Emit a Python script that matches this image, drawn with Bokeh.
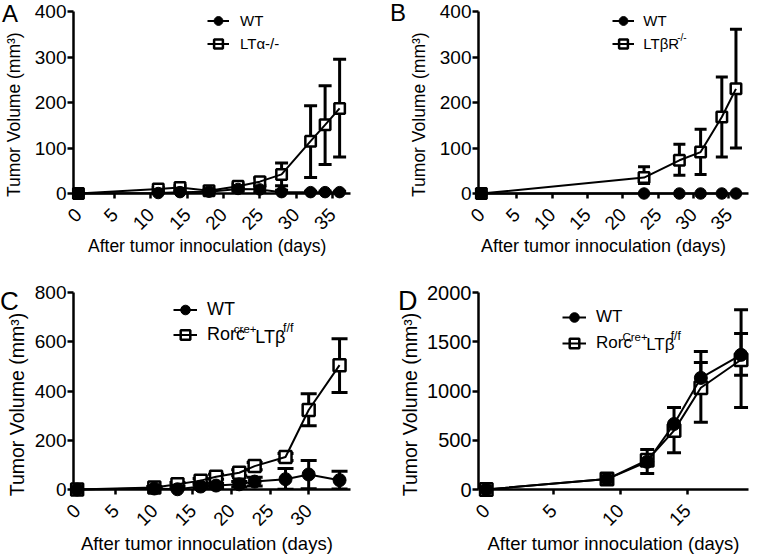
import math
from bokeh.plotting import figure
from bokeh.models import (ColumnDataSource, Whisker, TeeHead, Legend, LegendItem,
                          Label, FixedTicker, GridBox, Div)
from bokeh.embed import file_html
from bokeh.resources import INLINE

# ---------------- data ----------------
# Panel A: WT vs LTa-/-
a_days = [0, 11, 14, 18, 22, 25, 28, 32, 34, 36]
a_wt = [0, 1, 3, 4, 10, 9, 3, 3, 3, 3]
a_wt_lo = [0, 0, 1, 2, 5, 4, 1, 1, 1, 1]
a_wt_hi = [0, 2, 5, 6, 15, 14, 7, 5, 5, 5]
a_ko = [0, 10, 13, 6, 16, 26, 42, 115, 151, 187]
a_ko_lo = [0, 7, 9, 4, 11, 18, 17, 35, 64, 80]
a_ko_hi = [0, 13, 17, 8, 21, 34, 67, 193, 237, 295]

# Panel B: WT vs LTbR-/-
b_days = [0, 23, 28, 31, 34, 36]
b_wt = [0, 0, 0, 0, 0, 0]
b_wt_lo = [0, 0, 0, 0, 0, 0]
b_wt_hi = [0, 0, 0, 0, 0, 0]
b_ko = [0, 35, 73, 91, 168, 230]
b_ko_lo = [0, 22, 40, 42, 80, 100]
b_ko_hi = [0, 59, 108, 141, 256, 361]

# Panel C: WT vs Rorc-cre+ LTb f/f
c_days = [0, 10, 13, 16, 18, 21, 23, 27, 30, 34]
c_wt = [0, 4, 1, 12, 16, 21, 32, 42, 61, 38]
c_wt_lo = [0, 2, 0, 5, 8, 10, 14, 1, 3, 2]
c_wt_hi = [0, 6, 3, 19, 24, 32, 50, 85, 118, 74]
c_ko = [0, 8, 21, 36, 52, 68, 95, 132, 323, 505]
c_ko_lo = [0, 4, 14, 27, 42, 56, 80, 118, 259, 394]
c_ko_hi = [0, 12, 28, 45, 62, 80, 110, 146, 389, 612]

# Panel D: WT vs Rorc-Cre+ LTb f/f
d_days = [0, 9, 12, 14, 16, 19]
d_wt = [0, 106, 281, 665, 1133, 1367]
d_wt_lo = [0, 106, 163, 665, 1133, 1160]
d_wt_hi = [0, 106, 407, 832, 1400, 1825]
d_ko = [0, 106, 297, 598, 1033, 1317]
d_ko_lo = [0, 106, 297, 374, 682, 832]
d_ko_hi = [0, 106, 297, 598, 1290, 1585]

x_ticks_ab = [0, 5, 10, 15, 20, 25, 30, 35]
x_ticks_c = [0, 5, 10, 15, 20, 25, 30]
x_ticks_d = [0, 5, 10, 15]
y_ticks_ab = [0, 100, 200, 300, 400]
y_ticks_c = [0, 200, 400, 600, 800]
y_ticks_d = [0, 500, 1000, 1500, 2000]

x_title = "After tumor innoculation (days)"
y_title = "Tumor Volume (mm\u00b3)"
NB = "\u00a0"

# ---------------- layout / style ----------------
W, H = 390, 278
FONT = "Liberation Sans"


def make_panel(g, days, wt, wt_lo, wt_hi, ko, ko_lo, ko_hi, xticks, yticks,
               ko_label, extras):
    L, R, T, B = g["frame"]
    x0, xp = g["x0"], g["xppu"]
    ymax = g["ymax"]
    yp = (B - T) / ymax

    def dx(fx):
        return (fx - x0) / xp

    def dy(fy):
        return (B - fy) / yp

    p = figure(width=W, height=H, x_range=(dx(L), dx(R)), y_range=(0, ymax),
               output_backend="svg", toolbar_location=None,
               min_border_left=L, min_border_right=W - R,
               min_border_top=T, min_border_bottom=H - B,
               outline_line_color=None, background_fill_color="white",
               border_fill_color="white")
    p.xgrid.visible = False
    p.ygrid.visible = False

    p.xaxis.ticker = FixedTicker(ticks=xticks)
    p.yaxis.ticker = FixedTicker(ticks=yticks)
    for ax in (p.xaxis, p.yaxis):
        ax.axis_line_width = 2.5
        ax.axis_line_color = "black"
        ax.major_tick_line_width = 2.5
        ax.major_tick_line_color = "black"
        ax.major_tick_in = 0
        ax.minor_tick_line_color = None
        ax.major_label_text_font = FONT
        ax.major_label_text_color = "black"
        ax.axis_label_text_font = FONT
        ax.axis_label_text_font_style = "normal"
        ax.axis_label_text_color = "black"
    p.xaxis.major_label_text_font_size = g["xtick_fs"]
    p.yaxis.major_label_text_font_size = g["ytick_fs"]
    p.xaxis.major_tick_out = 5
    p.yaxis.major_tick_out = 6
    p.xaxis[0].major_label_orientation = math.pi / 4
    p.xaxis.major_label_standoff = 13
    p.yaxis.major_label_standoff = 1
    p.xaxis.axis_label = x_title + NB * g["xt_pad"]
    p.xaxis.axis_label_text_font_size = g["xt_fs"]
    p.xaxis.axis_label_standoff = g["xt_so"]
    p.yaxis.axis_label = y_title + NB * g["yt_pad"]
    p.yaxis.axis_label_text_font_size = g["yt_fs"]
    p.yaxis.axis_label_standoff = g["yt_so"]

    # error bars (drawn beneath the markers)
    def add_err(xs, ys, los, his):
        up = [(x, y, h) for x, y, h in zip(xs, ys, his) if h > y]
        dn = [(x, y, l) for x, y, l in zip(xs, ys, los) if l < y]
        if up:
            s = ColumnDataSource(dict(x=[u[0] for u in up], a=[u[1] for u in up],
                                      b=[u[2] for u in up]))
            p.add_layout(Whisker(source=s, base="x", lower="a", upper="b",
                                 dimension="height", line_width=g["elw"],
                                 line_color="black", level="underlay",
                                 upper_head=TeeHead(size=g["cap"], line_width=g["elw"],
                                                    line_color="black"),
                                 lower_head=None))
        if dn:
            s = ColumnDataSource(dict(x=[u[0] for u in dn], a=[u[2] for u in dn],
                                      b=[u[1] for u in dn]))
            p.add_layout(Whisker(source=s, base="x", lower="a", upper="b",
                                 dimension="height", line_width=g["elw"],
                                 line_color="black", level="underlay",
                                 lower_head=TeeHead(size=g["cap"], line_width=g["elw"],
                                                    line_color="black"),
                                 upper_head=None))

    add_err(days, ko, ko_lo, ko_hi)
    add_err(days, wt, wt_lo, wt_hi)

    src_wt = ColumnDataSource(dict(x=days, y=wt))
    src_ko = ColumnDataSource(dict(x=days, y=ko))
    sq = p.scatter("x", "y", source=src_ko, marker="square", size=g["sq"],
                   fill_color="white", line_color="black", line_width=2.5,
                   level="overlay")
    ln_ko = p.line("x", "y", source=src_ko, line_color="black", line_width=2,
                   level="overlay")
    ln_wt = p.line("x", "y", source=src_wt, line_color="black", line_width=2,
                   level="overlay")
    ci = p.scatter("x", "y", source=src_wt, marker="circle", size=g["ci"],
                   fill_color="black", line_color="black", line_width=1,
                   level="overlay")

    # legend (glyph rows of height gh, no spacing)
    gw, gh = g["gw"], g["gh"]
    lg_bottom = g["leg_y"] - gh / 2 + 2 * gh
    vx = g["leg_x"] - gw / 2 - L
    vy = B - lg_bottom
    leg = Legend(items=[LegendItem(label="WT", renderers=[ln_wt, ci]),
                        LegendItem(label=ko_label, renderers=[sq, ln_ko])],
                 location=(vx, vy), glyph_width=gw, glyph_height=gh, spacing=0,
                 label_standoff=g["so"], label_text_font=FONT,
                 label_text_font_size=g["leg_fs"], label_text_color="black",
                 border_line_color=None, background_fill_alpha=0,
                 margin=0, padding=0)
    p.add_layout(leg)

    for (fx, fy, t, fs) in extras:
        p.add_layout(Label(x=dx(fx), y=dy(fy), text=t, text_font=FONT,
                           text_font_size=fs, text_align="left",
                           text_baseline="middle", text_color="black"))
    return p


def letter(t, fs, pad_left, pad_top):
    return Div(text=t, width=40, height=40, margin=0, align="start",
               styles={"font-family": FONT, "font-size": fs, "line-height": "1",
                       "padding-left": pad_left, "padding-top": pad_top,
                       "color": "black", "z-index": "5", "pointer-events": "none"})


geo_a = dict(frame=(70, 350, 11, 193), x0=75, xppu=22 / 3, ymax=400,
             sq=10.5, ci=11.5, cap=13, elw=3, xtick_fs="19px", ytick_fs="19px",
             leg_x=215, leg_y=20, gw=22, gh=23, so=11, leg_fs="15px",
             xt_fs="17.5px", xt_pad=2, xt_so=-3, yt_fs="17.5px", yt_pad=5, yt_so=8)
geo_b = dict(frame=(78, 358, 11, 193), x0=81, xppu=22 / 3, ymax=400,
             sq=10.5, ci=11.5, cap=12, elw=3, xtick_fs="19px", ytick_fs="19px",
             leg_x=223.3, leg_y=20, gw=22, gh=23, so=9, leg_fs="15px",
             xt_fs="18px", xt_pad=4, xt_so=-3, yt_fs="17.5px", yt_pad=5, yt_so=8)
geo_c = dict(frame=(68, 372, 13, 213), x0=72, xppu=8.47, ymax=800,
             sq=12, ci=13, cap=16, elw=3, xtick_fs="19px", ytick_fs="19px",
             leg_x=180, leg_y=33.3, gw=24, gh=25, so=10, leg_fs="18px",
             xt_fs="18.5px", xt_pad=2, xt_so=-2, yt_fs="19.5px", yt_pad=5, yt_so=4)
geo_d = dict(frame=(88, 390, 14, 213), x0=96.7, xppu=15.0, ymax=2000,
             sq=12.5, ci=13, cap=14, elw=3, xtick_fs="19px", ytick_fs="20px",
             leg_x=184, leg_y=40.5, gw=24, gh=26, so=10, leg_fs="17px",
             xt_fs="18.5px", xt_pad=0, xt_so=-2, yt_fs="19.5px", yt_pad=5, yt_so=3)

pa = make_panel(geo_a, a_days, a_wt, a_wt_lo, a_wt_hi, a_ko, a_ko_lo, a_ko_hi,
                x_ticks_ab, y_ticks_ab, "LT\u03b1-/-", [])
pb = make_panel(geo_b, b_days, b_wt, b_wt_lo, b_wt_hi, b_ko, b_ko_lo, b_ko_hi,
                x_ticks_ab, y_ticks_ab, "LT\u03b2R",
                [(284, 37, "-/-", "10px")])
pc = make_panel(geo_c, c_days, c_wt, c_wt_lo, c_wt_hi, c_ko, c_ko_lo, c_ko_hi,
                x_ticks_c, y_ticks_c, "Rorc",
                [(244, 50, "cre+", "11.5px"), (267.5, 58.3, "LT\u03b2", "18px"),
                 (298, 49, "f/f", "12.5px")])
pd_ = make_panel(geo_d, d_days, d_wt, d_wt_lo, d_wt_hi, d_ko, d_ko_lo, d_ko_hi,
                 x_ticks_d, y_ticks_d, "Rorc",
                 [(249, 59, "Cre+", "11.5px"), (275.5, 66.5, "LT\u03b2", "17px"),
                  (303, 58, "f/f", "12px")])

grid = GridBox(children=[(pa, 0, 0), (pb, 0, 1), (pc, 1, 0), (pd_, 1, 1),
                         (letter("A", "24px", "2px", "2px"), 0, 0),
                         (letter("B", "24px", "0px", "1px"), 0, 1),
                         (letter("C", "26px", "0px", "10px"), 1, 0),
                         (letter("D", "27px", "8px", "10px"), 1, 1)],
               spacing=0)

with open("out.html", "w") as f:
    f.write(file_html(grid, INLINE))
